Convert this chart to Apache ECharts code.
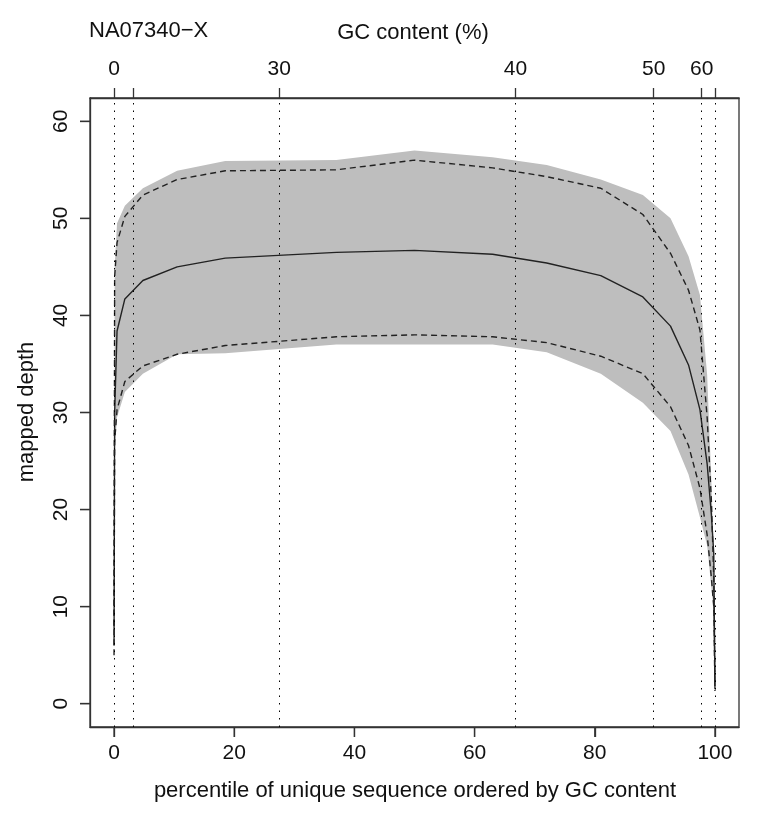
<!DOCTYPE html>
<html>
<head>
<meta charset="utf-8">
<script src="https://cdn.jsdelivr.net/npm/echarts@6/dist/echarts.min.js"></script>
<style>
html,body{margin:0;padding:0;background:#fff;}
#chart{width:765px;height:816px;}
</style>
</head>
<body>
<div id="chart"></div>
<script>
// percentile positions of the summary points
const pct      = [0, 0.1, 0.5, 1.8, 4.8, 10.5, 18.5, 37, 50, 63, 72, 81, 88, 92.6, 95.6, 97.5, 98.7, 99.4, 99.8, 100];
const median   = [6, 30, 38.4, 41.7, 43.6, 45.0, 45.9, 46.5, 46.7, 46.3, 45.4, 44.1, 41.9, 38.9, 34.9, 30.3, 24.7, 19.5, 15.5, 1.5];
const upperQ   = [8, 44, 47.5, 50.2, 52.4, 54.0, 54.9, 55.0, 56.0, 55.2, 54.3, 53.1, 50.4, 46.4, 42.6, 38.5, 29.5, 21, 13, 2];
const lowerQ   = [5, 27, 30.3, 33.2, 34.8, 36.0, 36.9, 37.8, 38.0, 37.8, 37.2, 35.8, 34.0, 30.6, 26.6, 22.2, 17.4, 13, 10, 1.3];
const bandTop  = [9, 45, 49.5, 51.3, 53.1, 54.9, 55.9, 56.0, 57.0, 56.3, 55.5, 54.0, 52.4, 50.0, 46.1, 42.1, 33.9, 23, 15.5, 2];
const bandBot  = [4, 26, 29.5, 32.1, 34.0, 36.0, 36.1, 37.0, 37.0, 37.0, 36.2, 34.0, 31.0, 28.1, 23.6, 19.2, 16.3, 12, 9.5, 1];

const xTicks = [0, 20, 40, 60, 80, 100];
const yTicks = [0, 10, 20, 30, 40, 50, 60];
// top axis: GC content ticks placed at their percentile positions
const gcPos    = [0, 3.2, 27.5, 66.8, 89.8, 97.8, 100];
const gcLabels = ['0', '', '30', '40', '50', '60', ''];

const FONT = 'Liberation Sans, Arial, Helvetica, sans-serif';
const chart = echarts.init(document.getElementById('chart'));

function pairs(ys) { return pct.map((p, i) => [p, ys[i]]); }

const X_MIN = -4, X_MAX = 104, Y_MIN = -2.4, Y_MAX = 62.4;
const TICK_LEN = 10;

const option = {
  animation: false,
  grid: {left: 90, top: 98, width: 649, height: 629, show: true, borderColor: '#333', borderWidth: 1.3},
  xAxis: [
    {
      type: 'value', min: X_MIN, max: X_MAX, position: 'bottom',
      axisLine: {show: true, onZero: false, lineStyle: {color: '#333', width: 1.3}},
      splitLine: {show: false},
      axisTick: {show: true, length: TICK_LEN, customValues: xTicks, lineStyle: {color: '#333', width: 1.3}},
      axisLabel: {customValues: xTicks, margin: 16, fontSize: 21, color: '#111', fontFamily: FONT}
    },
    {
      type: 'value', min: X_MIN, max: X_MAX, position: 'top',
      axisLine: {show: true, onZero: false, lineStyle: {color: '#333', width: 1.3}},
      splitLine: {show: false},
      axisTick: {show: true, length: TICK_LEN, customValues: gcPos, lineStyle: {color: '#333', width: 1.3}},
      axisLabel: {customValues: gcPos, margin: 18, fontSize: 21, color: '#111', fontFamily: FONT,
        formatter: function (v) {
          let best = 0, d = 1e9;
          gcPos.forEach((p, i) => { if (Math.abs(p - v) < d) { d = Math.abs(p - v); best = i; } });
          return gcLabels[best];
        }}
    }
  ],
  yAxis: {
    type: 'value', min: Y_MIN, max: Y_MAX, position: 'left',
    axisLine: {show: true, onZero: false, lineStyle: {color: '#333', width: 1.3}},
    splitLine: {show: false},
    axisTick: {show: true, length: TICK_LEN, customValues: yTicks, lineStyle: {color: '#333', width: 1.3}},
    axisLabel: {customValues: yTicks, rotate: 90, margin: 18, fontSize: 21, color: '#111', fontFamily: FONT}
  },
  graphic: [
    {type: 'text', left: 89, top: 20, style: {text: 'NA07340\u2212X', font: '22px ' + FONT, fill: '#111'}},
    {type: 'text', x: 413, y: 33, style: {text: 'GC content (%)', font: '22px ' + FONT, fill: '#111', textAlign: 'center', textVerticalAlign: 'middle'}},
    {type: 'text', x: 415, y: 791, style: {text: 'percentile of unique sequence ordered by GC content', font: '22px ' + FONT, fill: '#111', textAlign: 'center', textVerticalAlign: 'middle'}},
    {type: 'text', x: 27, y: 412, rotation: Math.PI / 2, style: {text: 'mapped depth', font: '22px ' + FONT, fill: '#111', textAlign: 'center', textVerticalAlign: 'middle'}}
  ],
  series: [
    {
      type: 'custom', xAxisIndex: 0, yAxisIndex: 0, z: 1, silent: true,
      data: [[0, 0]],
      renderItem: function (params, api) {
        const top = pct.map((p, i) => api.coord([p, bandTop[i]]));
        const bot = pct.map((p, i) => api.coord([p, bandBot[i]])).reverse();
        return {type: 'polygon', shape: {points: top.concat(bot)}, style: {fill: '#bebebe', stroke: null}};
      }
    },
    {
      type: 'line', name: 'upper', xAxisIndex: 0, yAxisIndex: 0, z: 3, symbol: 'none', silent: true,
      data: pairs(upperQ),
      lineStyle: {color: '#222', width: 1.4, type: [6, 4]}
    },
    {
      type: 'line', name: 'median', xAxisIndex: 0, yAxisIndex: 0, z: 3, symbol: 'none', silent: true,
      data: pairs(median),
      lineStyle: {color: '#222', width: 1.4, type: 'solid'}
    },
    {
      type: 'line', name: 'lower', xAxisIndex: 0, yAxisIndex: 0, z: 3, symbol: 'none', silent: true,
      data: pairs(lowerQ),
      lineStyle: {color: '#222', width: 1.4, type: [6, 4]},
      markLine: {
        silent: true, symbol: ['none', 'none'], animation: false,
        label: {show: false},
        lineStyle: {color: '#000', width: 1, type: [1.5, 6]},
        data: gcPos.map(p => ({xAxis: p}))
      }
    },
    { // bottom axis tick marks, placed through the x scale
      type: 'custom', xAxisIndex: 0, yAxisIndex: 0, z: 10, silent: true, clip: false,
      data: xTicks.map(v => [v, Y_MIN]),
      renderItem: function (params, api) {
        const p = api.coord([api.value(0), Y_MIN]);
        return {type: 'line', shape: {x1: p[0], y1: p[1], x2: p[0], y2: p[1] + TICK_LEN},
                style: {stroke: '#333', lineWidth: 1.3}};
      }
    },
    { // left axis tick marks, placed through the y scale
      type: 'custom', xAxisIndex: 0, yAxisIndex: 0, z: 10, silent: true, clip: false,
      data: yTicks.map(v => [X_MIN, v]),
      renderItem: function (params, api) {
        const p = api.coord([X_MIN, api.value(1)]);
        return {type: 'line', shape: {x1: p[0] - TICK_LEN, y1: p[1], x2: p[0], y2: p[1]},
                style: {stroke: '#333', lineWidth: 1.3}};
      }
    }
  ]
};
chart.setOption(option);
</script>
</body>
</html>
